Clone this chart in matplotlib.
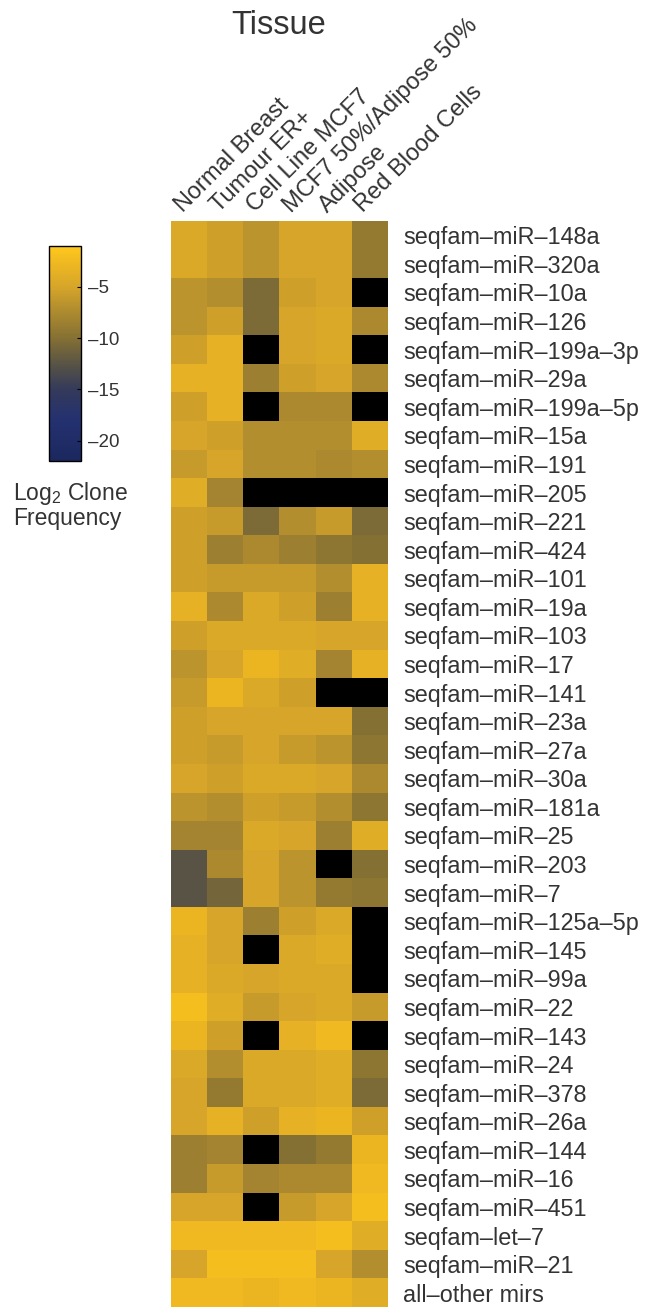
import numpy as np
import matplotlib
matplotlib.use("Agg")
import matplotlib.pyplot as plt
from matplotlib.colors import LinearSegmentedColormap

plt.rcParams['font.family'] = ['Liberation Sans', 'DejaVu Sans']
plt.rcParams['mathtext.fontset'] = 'custom'
plt.rcParams['mathtext.rm'] = 'Liberation Sans'

# ---------------------------------------------------------------------------
# Data: log2 clone frequency, NaN = not detected (drawn black)
# ---------------------------------------------------------------------------
tissues = ["Normal Breast", "Tumour ER+", "Cell Line MCF7",
           "MCF7 50%/Adipose 50%", "Adipose", "Red Blood Cells"]

mirnas = ["seqfam–miR–148a", "seqfam–miR–320a", "seqfam–miR–10a",
          "seqfam–miR–126", "seqfam–miR–199a–3p", "seqfam–miR–29a",
          "seqfam–miR–199a–5p", "seqfam–miR–15a", "seqfam–miR–191",
          "seqfam–miR–205", "seqfam–miR–221", "seqfam–miR–424",
          "seqfam–miR–101", "seqfam–miR–19a", "seqfam–miR–103",
          "seqfam–miR–17", "seqfam–miR–141", "seqfam–miR–23a",
          "seqfam–miR–27a", "seqfam–miR–30a", "seqfam–miR–181a",
          "seqfam–miR–25", "seqfam–miR–203", "seqfam–miR–7",
          "seqfam–miR–125a–5p", "seqfam–miR–145", "seqfam–miR–99a",
          "seqfam–miR–22", "seqfam–miR–143", "seqfam–miR–24",
          "seqfam–miR–378", "seqfam–miR–26a", "seqfam–miR–144",
          "seqfam–miR–16", "seqfam–miR–451", "seqfam–let–7",
          "seqfam–miR–21", "all–other mirs"]

nan = np.nan
log2_freq = np.array([
    [-4.5, -5.5, -6.5, -5.0, -5.0, -9.0],
    [-4.5, -5.5, -6.5, -5.0, -5.0, -9.0],
    [-6.5, -7.0, -10.5, -5.5, -5.0, nan],
    [-6.5, -5.5, -10.5, -5.0, -4.5, -7.5],
    [-5.5, -3.5, nan, -5.0, -4.5, nan],
    [-3.5, -3.5, -8.5, -5.5, -5.0, -7.5],
    [-5.5, -3.5, nan, -7.5, -7.5, nan],
    [-5.0, -5.5, -7.0, -7.0, -7.0, -4.0],
    [-6.0, -5.0, -7.0, -7.0, -7.5, -7.0],
    [-4.0, -8.0, nan, nan, nan, nan],
    [-5.5, -6.0, -10.5, -7.0, -6.0, -10.5],
    [-5.5, -8.5, -7.5, -8.5, -9.5, -10.0],
    [-5.5, -6.0, -6.0, -6.0, -7.0, -3.5],
    [-3.5, -7.5, -4.5, -5.5, -8.5, -3.5],
    [-5.5, -4.5, -4.5, -4.5, -5.0, -5.0],
    [-6.5, -5.0, -3.0, -4.0, -8.0, -3.5],
    [-6.0, -3.0, -4.5, -5.5, nan, nan],
    [-5.5, -5.0, -5.0, -5.0, -5.0, -10.0],
    [-5.5, -6.0, -5.0, -6.0, -6.5, -9.5],
    [-5.0, -5.5, -4.5, -4.5, -5.0, -7.5],
    [-6.5, -7.0, -5.5, -6.0, -7.0, -9.5],
    [-8.0, -8.0, -4.5, -5.0, -8.5, -4.0],
    [-12.5, -7.5, -5.0, -6.5, nan, -10.0],
    [-12.5, -11.0, -5.0, -6.5, -9.0, -9.5],
    [-3.0, -5.0, -8.5, -5.5, -4.5, nan],
    [-3.5, -5.0, nan, -4.5, -4.0, nan],
    [-3.5, -4.5, -5.0, -4.5, -4.5, nan],
    [-2.0, -4.0, -6.0, -5.0, -4.5, -6.0],
    [-3.0, -5.5, nan, -3.5, -2.5, nan],
    [-4.5, -7.0, -4.5, -4.5, -4.0, -9.5],
    [-5.0, -9.0, -4.5, -4.5, -4.0, -10.5],
    [-5.0, -3.5, -5.5, -3.5, -3.0, -5.5],
    [-8.5, -8.0, nan, -10.0, -9.0, -3.0],
    [-8.5, -6.0, -8.0, -7.5, -7.5, -2.5],
    [-5.0, -5.0, nan, -6.0, -5.0, -2.0],
    [-2.5, -2.5, -2.5, -2.5, -2.0, -4.0],
    [-5.0, -2.0, -2.0, -2.0, -5.0, -7.0],
    [-2.5, -2.5, -3.0, -2.5, -3.0, -4.0],
])

cbar_ticks = [-5, -10, -15, -20]
cbar_ticklabels = ["–5", "–10", "–15", "–20"]

# ---------------------------------------------------------------------------
# Colormap: navy -> grey -> olive -> yellow
# ---------------------------------------------------------------------------
VMIN, VMAX = -22, -1
anchors = [(-22, "#1b285e"), (-18, "#243170"), (-15, "#343a5a"),
           (-12.5, "#595445"), (-10, "#857034"), (-7, "#b48f2e"),
           (-5, "#d6a52a"), (-3, "#ebb523"), (-1, "#ffc81d")]
cmap = LinearSegmentedColormap.from_list(
    "tissue", [((v - VMIN) / (VMAX - VMIN), c) for v, c in anchors])
cmap.set_bad("black")

fig = plt.figure(figsize=(6.54, 13.07), dpi=100)

# --- heatmap ---
ax = fig.add_axes([171 / 654, 0.0, 217 / 654, 1086 / 1307])
im = ax.imshow(np.ma.masked_invalid(log2_freq), cmap=cmap, vmin=VMIN, vmax=VMAX,
               aspect="auto", interpolation="nearest")
for s in ax.spines.values():
    s.set_visible(False)
ax.set_xticks([])
ax.yaxis.tick_right()
ax.set_yticks(np.arange(len(mirnas)))
ax.set_yticklabels(mirnas, fontsize=16.8, color="#333333")
ax.tick_params(axis="y", length=0, pad=11)

# rotated tissue names above the columns
for j, name in enumerate(tissues):
    ax.text(j - 0.18, -0.78, name, rotation=45, rotation_mode="anchor",
            ha="left", va="baseline", fontsize=17, color="#333333")

fig.text(279 / 654, 1 - 26 / 1307, "Tissue", ha="center", va="center",
         fontsize=23.5, color="#333333")

# --- colorbar ---
cax = fig.add_axes([49 / 654, 1 - 461 / 1307, 32 / 654, 215 / 1307])
cb = fig.colorbar(im, cax=cax)
cb.set_ticks(cbar_ticks)
cb.set_ticklabels(cbar_ticklabels)
cb.ax.tick_params(direction="in", length=3, width=0.8, labelsize=13.5,
                  labelcolor="#333333", pad=5)
cb.outline.set_linewidth(1.0)

fig.text(13 / 654, 1 - 480 / 1307, "Log$_\\mathregular{2}$ Clone\nFrequency",
         ha="left", va="top", fontsize=16.5, color="#333333", linespacing=1.0)

fig.savefig("out.png", dpi=100)
